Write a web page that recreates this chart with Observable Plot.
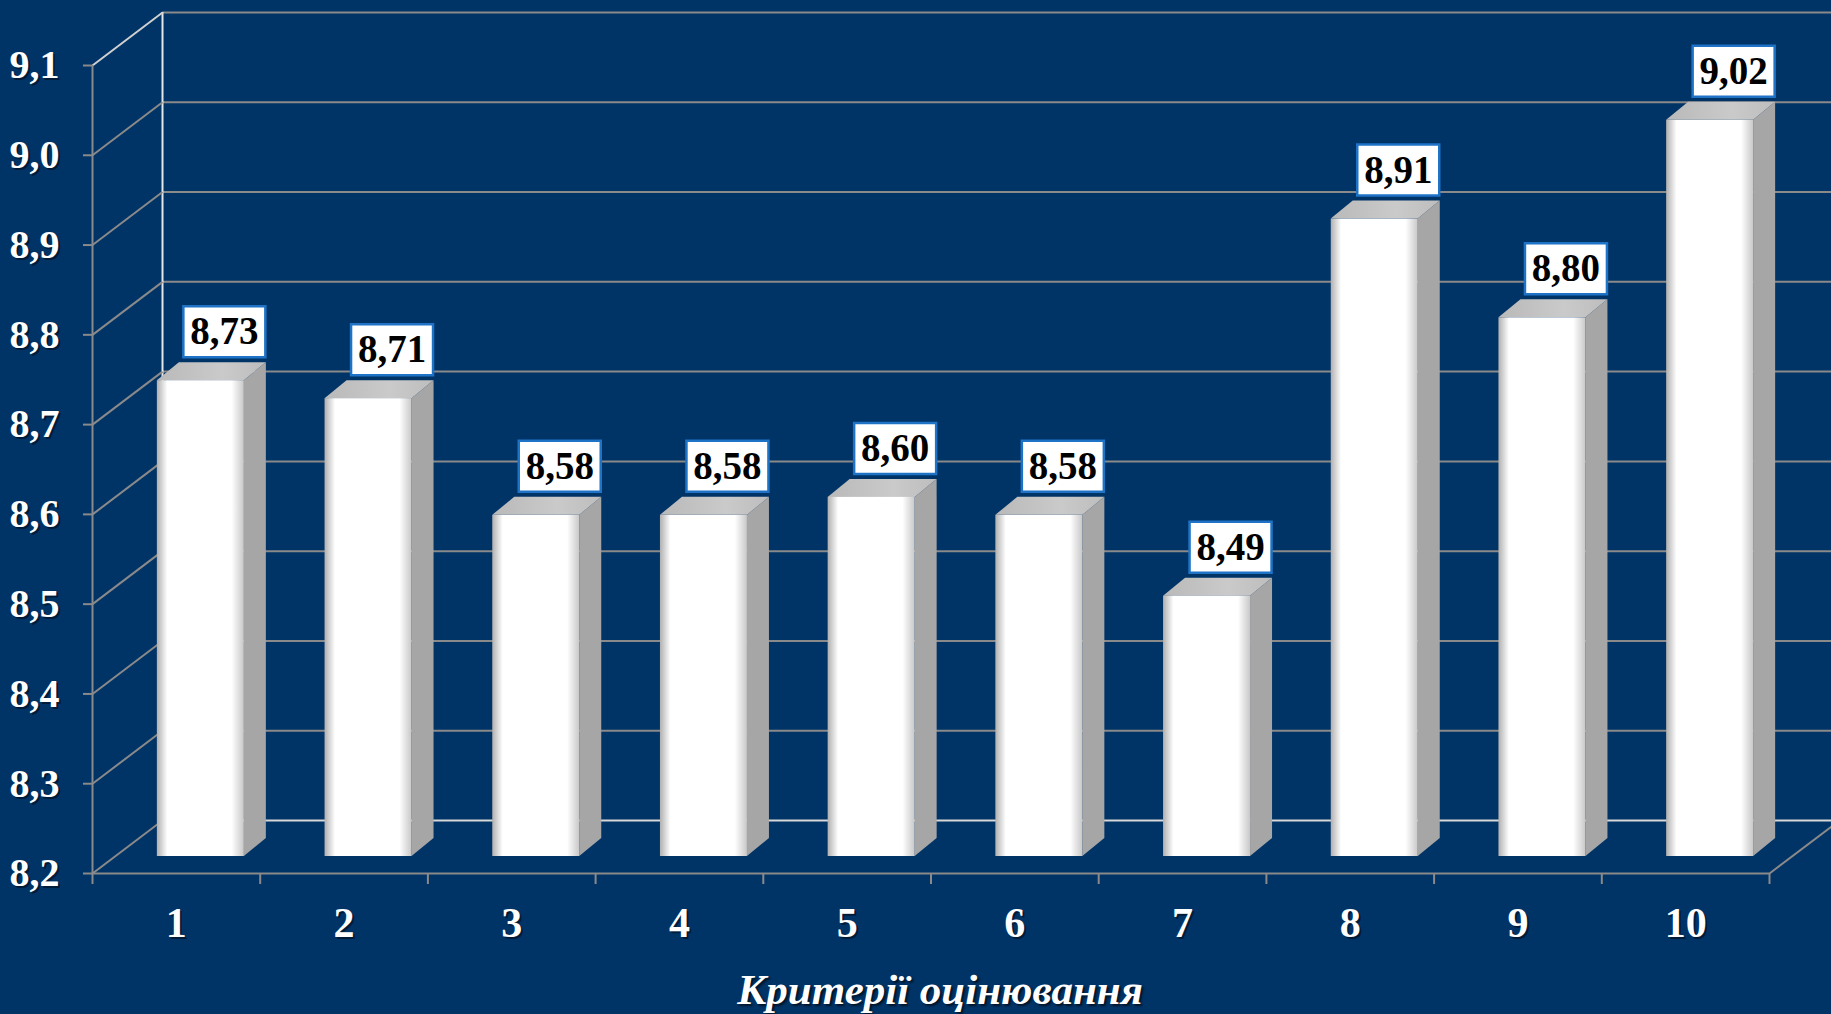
<!DOCTYPE html>
<html>
<head>
<meta charset="utf-8">
<script src="https://cdn.jsdelivr.net/npm/d3@7"></script>
<script src="https://cdn.jsdelivr.net/npm/@observablehq/plot@0.6"></script>
<style>
  html, body { margin: 0; padding: 0; background: #003366; overflow: hidden; width: 1831px; height: 1014px; }
  #chart svg { display: block; }
  #title {
    position: absolute; left: 940px; top: 966px; transform: translateX(-50%);
    height: 48px; line-height: 48px; white-space: nowrap;
    font-family: "Liberation Serif", "Times New Roman", serif;
    font-size: 43px; font-weight: bold; font-style: italic; color: #ffffff;
    text-shadow: 2px 2px 2px rgba(0,0,0,0.6);
  }
</style>
</head>
<body>
<div id="chart"></div>
<div id="title">Критерії оцінювання</div>
<script>
// ---- data ----
const categories = [1, 2, 3, 4, 5, 6, 7, 8, 9, 10];
const values = [8.73, 8.71, 8.58, 8.58, 8.60, 8.58, 8.49, 8.91, 8.80, 9.02];
const yTicks = [8.2, 8.3, 8.4, 8.5, 8.6, 8.7, 8.8, 8.9, 9.0, 9.1];
const xTitle = "Критерії оцінювання";

const rows = categories.map((k, i) => ({k, v: values[i]}));
const fmt1 = d => d.toFixed(1).replace(".", ",");
const fmt2 = d => d.toFixed(2).replace(".", ",");

// geometry helpers (pseudo-3D depth, expressed in scale units)
const W = 1831, H = 968;
const mL = 92, mR = 62, mT = 65, mB = 95;
const pxPerX = (W - mL - mR) / 10;          // px per category
const pxPerY = (H - mT - mB) / 0.9;         // px per unit of y
const wallDX = 70 / pxPerX, wallDY = 53 / pxPerY;   // wall depth
const barDX = 22 / pxPerX, barDY = 18 / pxPerY;     // bar depth
const halfW = 43.5 / pxPerX;                         // bar half width
const yMin = yTicks[0], yMax = yTicks[yTicks.length - 1];
const xMin = categories[0] - 0.5, xMax = categories[categories.length - 1] + 0.5;

const sidePts = rows.flatMap(d => [
  {k: d.k, x: d.k + halfW, y1: yMin, y2: d.v},
  {k: d.k, x: d.k + halfW + barDX, y1: yMin + barDY, y2: d.v + barDY}
]);
const topPts = rows.flatMap(d => [
  {k: d.k, y: d.v, x1: d.k - halfW, x2: d.k + halfW},
  {k: d.k, y: d.v + barDY, x1: d.k - halfW + barDX, x2: d.k + halfW + barDX}
]);

const gridGray = "#8a8a8a";
const font = "'Liberation Serif', 'Times New Roman', serif";
const boxSymbol = { draw(ctx) { ctx.rect(-41, -25.5, 82, 51); } };

const defs = () => {
  const g = d3.create("svg:defs");
  const f = g.append("linearGradient").attr("id", "frontGrad").attr("x1", 0).attr("x2", 1).attr("y1", 0).attr("y2", 0);
  f.append("stop").attr("offset", "0").attr("stop-color", "#b0b0b0");
  f.append("stop").attr("offset", "0.12").attr("stop-color", "#ffffff");
  f.append("stop").attr("offset", "0.86").attr("stop-color", "#ffffff");
  f.append("stop").attr("offset", "1").attr("stop-color", "#c8c8c8");
  const t = g.append("linearGradient").attr("id", "topGrad").attr("x1", 0).attr("x2", 1).attr("y1", 0).attr("y2", 0);
  t.append("stop").attr("offset", "0").attr("stop-color", "#b9b9b9");
  t.append("stop").attr("offset", "0.6").attr("stop-color", "#cacaca");
  t.append("stop").attr("offset", "1").attr("stop-color", "#bdbdbd");
  return g.node();
};

const chart = Plot.plot({
  width: W, height: H,
  marginLeft: mL, marginRight: mR, marginTop: mT, marginBottom: mB,
  x: {type: "linear", domain: [xMin, xMax]},
  y: {type: "linear", domain: [yMin, yMax]},
  style: {background: "transparent", fontFamily: font, overflow: "visible"},
  marks: [
    defs,
    // back wall gridlines
    Plot.ruleY(yTicks.slice(1), {y: d => d, dx: 70, dy: -53, stroke: gridGray, strokeWidth: 2}),
    Plot.ruleY([yMin], {y: d => d, dx: 70, dy: -53, stroke: "#d8d8d8", strokeWidth: 2}),
    Plot.ruleX([xMin], {x: d => d, y1: yMin, y2: yMax, dx: 70, dy: -53, stroke: "#e6e6e6", strokeWidth: 2}),
    // side wall diagonals
    Plot.link(yTicks, {x1: xMin, y1: d => d, x2: xMin + wallDX, y2: d => d + wallDY, stroke: d => d === yMax ? "#d0d0d0" : gridGray, strokeWidth: 2}),
    Plot.link([yMin], {x1: xMax, y1: d => d, x2: xMax + wallDX, y2: d => d + wallDY, stroke: gridGray, strokeWidth: 2}),
    // front axes
    Plot.ruleX([xMin], {x: d => d, y1: yMin, y2: yMax, stroke: gridGray, strokeWidth: 2}),
    Plot.ruleY([yMin], {y: d => d, stroke: gridGray, strokeWidth: 2}),
    Plot.axisX(d3.range(xMin, xMax + 0.01, 1), {tickSize: 11, tickFormat: () => "", stroke: gridGray, strokeWidth: 2, label: null}),
    Plot.axisY(yTicks, {tickSize: 9, tickFormat: () => "", stroke: gridGray, strokeWidth: 2, label: null}),
    // bars (pseudo-3D)
    Plot.areaY(sidePts, {x: "x", y1: "y1", y2: "y2", z: "k", fill: "#a6a6a6", dx: 24.5, dy: -17}),
    Plot.areaX(topPts, {y: "y", x1: "x1", x2: "x2", z: "k", fill: "url(#topGrad)", dx: 24.5, dy: -17}),
    Plot.rectY(rows, {x1: d => d.k - halfW, x2: d => d.k + halfW, y1: yMin, y2: "v", fill: "url(#frontGrad)", dx: 24.5, dy: -17}),
    // value labels
    Plot.dot(rows, {x: "k", y: "v", dx: 48, dy: -66, symbol: boxSymbol, fill: "#ffffff", stroke: "#1f73c6", strokeWidth: 2.5}),
    Plot.text(rows, {x: "k", y: "v", dx: 48, dy: -66, text: d => fmt2(d.v), fontSize: 39, fontWeight: "bold", fill: "#000000"}),
    // y tick labels (with shadow)
    Plot.text(yTicks, {x: xMin, y: d => d, dx: -31, dy: 2, text: fmt1, textAnchor: "end", fontSize: 40, fontWeight: "bold", fill: "#000000", fillOpacity: 0.45}),
    Plot.text(yTicks, {x: xMin, y: d => d, dx: -33, text: fmt1, textAnchor: "end", fontSize: 40, fontWeight: "bold", fill: "#ffffff"}),
    // x tick labels (with shadow)
    Plot.text(categories, {x: d => d, y: yMin, dx: 2, dy: 52, text: d => String(d), fontSize: 42, fontWeight: "bold", fill: "#000000", fillOpacity: 0.45}),
    Plot.text(categories, {x: d => d, y: yMin, dy: 50, text: d => String(d), fontSize: 42, fontWeight: "bold", fill: "#ffffff"})
  ]
});
document.getElementById("chart").appendChild(chart);
</script>
</body>
</html>
